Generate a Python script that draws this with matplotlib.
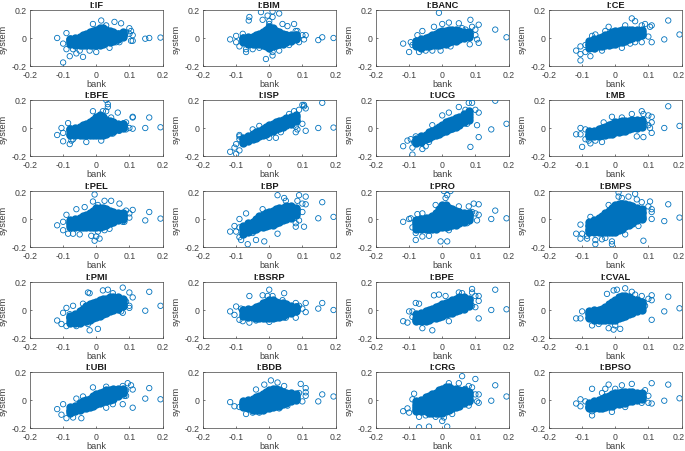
import numpy as np
import matplotlib
matplotlib.use('Agg')
import matplotlib.pyplot as plt
from matplotlib.transforms import ScaledTranslation

plt.rcParams['font.family'] = ['Liberation Sans', 'DejaVu Sans']

# bank positions of the dense columns in the middle of each cloud
core_x = [-.08, -.065, -.05, -.04, -.03, -.02, -.01, 0, .01, .02, .03, .04, .05, .065, .08]

# system values of each dense column, rows low to high, in hundredths
IF_core = [[-4,-5,-5,-5,-5,-5,-5,-5,-5,-4,-3,-3,-2,-1,1], [-3,-3,-3,-3,-3,-2,-2,-2,-2,-1,-1,0,0,1,2],
           [-2,-2,-1,-1,0,1,1,2,2,2,2,2,2,2,3], [-1,-1,0,1,2,3,3,4,4,4,4,3,3,3,3], [-1,0,1,2,3,4,5,6,7,7,6,5,4,3,4]]
BIM_core = [[-3,-4,-4,-4,-4,-5,-6,-7,-6,-5,-4,-4,-3,-2,-1], [-2,-2,-2,-2,-2,-2,-3,-3,-3,-2,-2,-1,-1,-1,0],
            [-1,-1,0,0,1,1,2,2,2,1,1,1,1,1,1], [0,0,1,1,2,3,4,5,5,3,3,2,2,1,2], [0,1,1,2,3,4,6,8,7,5,4,3,2,2,2]]
BANC_core = [[-6,-7,-6,-6,-5,-5,-5,-4,-4,-3,-2,-2,-1,0,1], [-5,-5,-4,-4,-3,-3,-2,-2,-1,-1,0,0,1,1,2],
             [-4,-3,-3,-2,-2,-1,0,0,1,1,2,2,2,2,3], [-2,-1,0,1,2,3,4,5,5,6,6,6,5,4,4]]
CE_core = [[-7,-7,-6,-6,-5,-5,-4,-4,-3,-3,-2,-1,0,1,2], [-5,-5,-4,-4,-3,-3,-2,-2,-1,0,0,1,2,2,3],
           [-4,-3,-3,-2,-1,-1,0,1,1,2,2,3,3,4,4], [-2,-1,0,1,2,3,4,5,5,6,6,6,6,6,6]]
BFE_core = [[-5,-5,-5,-5,-5,-5,-5,-5,-5,-5,-4,-3,-2,-1,0], [-4,-3,-3,-3,-3,-2,-2,-2,-2,-2,-1,-1,0,0,1],
            [-2,-2,-1,-1,0,0,1,2,2,2,2,1,1,1,2], [-1,-1,0,1,1,2,3,5,6,5,4,3,2,2,3], [-1,0,1,2,3,4,6,8,9,8,6,5,4,3,3]]
ISP_core = [[-11,-9,-8,-7,-6,-5,-4,-3,-2,-1,0,1,2,3,5], [-10,-8,-7,-6,-5,-4,-3,-2,-1,0,1,2,3,5,6],
            [-8,-7,-6,-5,-4,-3,-2,0,1,2,3,4,5,6,8], [-7,-6,-4,-3,-2,-1,1,2,3,4,5,6,7,8,9]]
UCG_core = [[-11,-10,-8,-7,-6,-5,-4,-3,-2,-1,0,1,2,4,6], [-10,-9,-7,-6,-5,-4,-2,-1,0,1,2,3,4,6,8],
            [-9,-8,-6,-5,-4,-2,-1,0,2,3,4,5,6,8,10], [-8,-6,-5,-3,-2,-1,1,2,4,5,6,7,8,10,12]]
MB_core = [[-6,-6,-6,-5,-5,-4,-4,-3,-3,-2,-2,-1,0,0,1], [-5,-5,-4,-4,-3,-3,-2,-2,-1,-1,0,0,1,2,3],
           [-4,-3,-3,-2,-2,-1,-1,0,0,1,1,2,2,3,4], [-2,-2,-1,0,1,2,3,4,4,5,5,5,6,6,6]]
PEL_core = [[-6,-6,-6,-6,-6,-6,-6,-6,-6,-5,-4,-3,-2,-1,0], [-4,-4,-4,-4,-3,-3,-3,-3,-2,-2,-1,-1,0,0,1],
            [-3,-3,-2,-1,-1,0,0,1,1,2,2,2,2,2,2], [-2,-1,0,1,1,2,3,4,5,5,4,4,3,3,3], [-1,0,1,2,3,4,6,8,8,8,7,6,5,4,4]]
BP_core = [[-11,-9,-8,-7,-6,-6,-5,-4,-4,-3,-2,-1,0,1,3], [-9,-7,-6,-5,-4,-3,-3,-2,-1,0,1,1,2,3,4],
           [-7,-5,-4,-3,-2,-1,0,1,2,2,3,4,5,5,6], [-6,-4,-3,-1,0,1,2,3,4,5,5,6,7,7,7], [-5,-3,-2,0,2,3,4,5,6,7,8,8,9,9,8]]
PRO_core = [[-7,-7,-7,-7,-7,-7,-6,-6,-6,-5,-4,-4,-3,-2,-1], [-5,-5,-4,-4,-4,-4,-3,-3,-2,-2,-1,-1,0,0,1],
            [-3,-3,-2,-2,-1,-1,0,1,1,2,2,2,2,2,2], [-2,-1,0,0,1,2,3,5,6,5,4,4,3,3,3], [-1,0,1,1,2,4,7,10,10,8,7,6,5,4,4]]
BMPS_core = [[-9,-9,-9,-9,-9,-9,-9,-9,-8,-7,-5,-4,-3,-1,0], [-8,-7,-7,-7,-7,-7,-6,-6,-5,-4,-3,-2,-1,0,1],
             [-7,-6,-6,-5,-5,-5,-4,-4,-3,-2,-1,0,0,1,2], [-5,-4,-3,-2,-1,-1,0,1,2,3,3,4,4,4,4],
             [-4,-3,-1,0,1,3,4,5,6,7,7,7,6,6,5], [-2,-1,1,2,4,6,8,10,11,11,11,10,9,8,7]]
PMI_core = [[-9,-9,-9,-8,-8,-7,-6,-5,-4,-3,-2,-1,0,1,3], [-8,-7,-6,-5,-5,-4,-3,-2,-1,0,0,1,2,3,4],
            [-6,-5,-4,-3,-2,-1,0,1,2,2,3,4,4,5,6], [-5,-4,-2,-1,0,2,2,3,4,5,5,6,6,7,7], [-4,-3,-1,1,3,4,5,6,7,8,8,9,9,9,8]]
BSRP_core = [[-4,-5,-5,-6,-6,-6,-6,-6,-6,-5,-5,-4,-3,-2,-1], [-3,-3,-3,-3,-3,-3,-3,-3,-2,-2,-2,-1,-1,-1,0],
             [-1,-1,-1,0,0,1,1,1,1,1,1,1,1,1,1], [0,0,0,1,1,3,3,4,4,3,3,3,2,2,2], [0,1,1,2,3,5,6,7,7,6,5,5,4,3,2]]
BPE_core = [[-8,-8,-8,-7,-6,-6,-5,-4,-3,-2,-2,-1,0,1,3], [-7,-7,-6,-5,-4,-4,-3,-2,-1,0,0,1,2,4,5],
            [-6,-5,-4,-3,-2,-2,-1,0,1,2,2,3,4,6,7], [-3,-2,-1,0,1,2,3,4,5,6,7,8,9,9,8]]
CVAL_core = [[-6,-7,-7,-7,-7,-7,-7,-7,-6,-5,-4,-3,-2,-1,0], [-5,-5,-5,-4,-4,-3,-3,-3,-2,-1,-1,0,1,1,2],
             [-3,-3,-3,-2,-1,-1,0,1,2,2,3,3,3,4,4], [-2,-1,-1,0,1,2,3,4,5,6,6,6,5,5,5], [-1,0,0,1,2,4,6,7,9,10,10,9,8,7,6]]
UBI_core = [[-9,-8,-7,-6,-6,-5,-4,-3,-2,-1,-1,0,1,3,5], [-8,-7,-6,-5,-4,-3,-2,-1,0,1,1,2,3,5,6],
            [-7,-6,-4,-4,-3,-2,-1,0,1,2,3,4,5,6,7], [-5,-4,-2,-1,0,1,3,4,5,6,7,7,8,8,8]]
BDB_core = [[-5,-6,-7,-7,-7,-7,-6,-6,-5,-4,-4,-3,-2,-1,0], [-4,-4,-4,-4,-4,-3,-3,-2,-2,-2,-1,-1,0,0,1],
            [-3,-2,-2,-2,-1,0,0,1,1,1,1,2,2,2,2], [-2,-1,0,0,1,2,3,4,4,4,4,4,3,3,3], [-1,0,1,2,3,4,6,7,8,8,7,6,5,5,4]]
CRG_core = [[-8,-8,-8,-9,-9,-9,-9,-9,-8,-7,-6,-5,-4,-2,-1], [-7,-7,-6,-7,-7,-7,-6,-6,-5,-4,-4,-3,-2,-1,0],
            [-6,-5,-5,-5,-5,-5,-4,-4,-3,-2,-2,-1,-1,0,1], [-4,-3,-2,-2,-1,-1,0,1,1,2,2,2,2,2,3],
            [-3,-2,0,1,1,2,3,4,5,5,5,5,4,4,4], [-1,0,2,3,4,5,7,8,9,9,8,8,7,7,6]]
BPSO_core = [[-6,-6,-6,-6,-5,-4,-4,-3,-3,-2,-2,-1,-1,0,1], [-5,-5,-4,-4,-3,-3,-2,-2,-1,-1,0,0,1,1,2],
             [-4,-3,-3,-2,-2,-1,-1,0,0,1,1,2,2,2,3], [-2,-1,0,1,2,3,4,5,5,6,6,6,6,5,5]]

# the separate circles around each cloud, (bank, system)
IF_out = [(-.118,0),(-.1,-.175),(-.09,.035),(-.1,-.04),(-.09,-.08),(-.08,-.13),(-.07,-.08),(-.06,-.11),(-.04,-.135),(-.05,-.09),(-.01,.1),(.015,.125),(.055,.115),(.075,.105),(.03,.09),(.1,.07),(.105,.05),(.11,.02),(.11,-.02),(.105,-.02),(.1,.03),(.04,-.07),(.148,-.005),(.16,0),(.194,.003),(.09,.04),(.07,-.03),(.06,-.03),(-.02,-.09),(0,-.1)]
BIM_out = [(-.118,-.01),(-.1,.015),(-.1,-.03),(-.09,-.06),(-.08,.03),(-.07,-.08),(-.07,-.1),(-.06,.15),(-.062,.125),(-.05,-.08),(-.03,-.07),(-.02,.13),(-.025,.185),(-.005,.16),(.01,.19),(.03,.175),(.01,.15),(-.01,-.15),(.01,-.125),(.01,-.1),(.03,-.09),(.04,.1),(.055,.085),(.075,.1),(.085,.05),(.09,-.03),(.06,-.05),(.1,.02),(.11,.02),(.105,-.01),(.08,.05),(.148,-.015),(.16,.005),(.194,0),(0,.12),(0,.1)]
BANC_out = [(-.118,-.04),(-.1,-.1),(-.095,-.03),(-.09,-.05),(-.08,-.02),(-.075,.02),(-.06,.05),(-.07,-.1),(-.05,-.09),(-.03,-.09),(-.025,.08),(0,.1),(.02,.11),(-.005,-.09),(.025,-.06),(-.01,.18),(.05,.105),(.085,.13),(.09,.08),(.11,.095),(.1,.06),(.1,.02),(.105,-.01),(.11,-.035),(.083,-.045),(.16,.06),(.194,.005),(.06,.07),(.07,.06)]
CE_out = [(-.118,-.09),(-.105,-.06),(-.105,-.115),(-.105,-.16),(-.09,-.05),(-.09,-.1),(-.07,.015),(-.075,-.13),(-.06,.025),(-.06,-.08),(-.04,-.09),(-.03,.05),(-.02,.08),(.02,-.07),(.05,.14),(.06,.12),(.06,-.03),(.09,.1),(.105,.08),(.11,.09),(.08,-.03),(.11,-.03),(.1,.01),(.148,-.01),(.16,.125),(.194,.025),(.08,.09),(.03,.09),(.045,-.04)]
BFE_out = [(-.118,-.05),(-.105,0),(-.1,-.095),(-.1,-.035),(-.08,-.115),(-.075,-.09),(-.085,.035),(-.07,-.08),(-.03,-.1),(.015,-.09),(-.01,.12),(.02,.12),(.03,.2),(.035,.17),(.035,.15),(.03,.12),(.065,.11),(.045,.075),(.09,.04),(.11,.08),(.11,.075),(.1,0),(.11,-.005),(.09,-.01),(.148,0),(.16,.075),(.194,.005),(.08,.03),(.07,-.02),(.05,-.04)]
ISP_out = [(-.118,-.17),(-.105,-.14),(-.1,-.185),(-.1,-.115),(-.09,-.16),(-.09,-.08),(-.09,-.05),(-.09,-.06),(-.07,-.09),(-.03,.015),(-.05,-.01),(.035,-.03),(.02,-.07),(0,-.07),(.075,.12),(.09,.13),(.1,.165),(.105,.165),(.11,.14),(.105,.155),(.16,.18),(.1,.03),(.08,-.03),(.11,-.02),(.148,0),(.194,.003),(.085,-.01),(.06,.1),(.08,.01)]
UCG_out = [(-.118,-.13),(-.105,-.09),(-.095,-.08),(-.09,-.14),(-.09,-.19),(-.085,-.1),(-.08,-.06),(-.06,-.15),(-.05,-.13),(-.04,-.1),(-.03,.02),(0,.09),(.02,.11),(.05,.15),(.08,.18),(.09,.18),(.075,.03),(.085,-.135),(.11,-.065),(.105,.02),(.148,-.01),(.16,.195),(.194,.03),(.11,.11),(.1,.13),(.07,.13),(.06,.03),(.03,-.01)]
MB_out = [(-.118,-.045),(-.105,0),(-.105,-.045),(-.1,-.135),(-.09,-.01),(-.09,-.08),(-.08,-.09),(-.075,-.11),(-.06,-.09),(-.04,-.1),(-.035,.04),(-.01,.08),(.02,.075),(.05,.1),(.08,.12),(.085,.1),(.1,.09),(.11,.08),(.11,.04),(.105,0),(.11,-.035),(.065,-.06),(.085,-.065),(.148,0),(.16,.155),(.194,.015),(.09,.03),(.1,.02)]
PEL_out = [(-.118,-.045),(-.1,-.08),(-.1,-.02),(-.09,.03),(-.085,-.105),(-.07,-.105),(-.05,-.11),(-.06,.07),(-.035,.085),(-.01,.125),(-.005,.175),(.005,.1),(.025,.13),(.045,.13),(.07,.11),(.09,.06),(.11,.065),(.1,.04),(.1,.01),(.085,-.02),(-.015,-.12),(-.005,-.155),(0,-.125),(.01,-.14),(.005,-.09),(.025,-.08),(.04,-.07),(.148,-.01),(.16,.05),(.194,.003),(.07,.04),(.08,-.02)]
BP_out = [(-.118,-.09),(-.105,-.05),(-.1,-.09),(-.09,-.13),(-.09,-.06),(-.085,-.15),(-.09,0),(-.07,.04),(-.065,-.18),(-.04,-.15),(-.015,-.16),(.025,-.105),(-.05,-.1),(-.02,.07),(.025,.17),(.045,.15),(.05,.13),(.09,.17),(.11,.16),(.1,.11),(.11,.105),(.085,.13),(.09,-.01),(.08,-.03),(.08,-.055),(.105,-.055),(.1,.05),(.148,.005),(.16,.12),(.194,.015),(.075,.06)]
PRO_out = [(-.118,-.02),(-.1,0),(-.095,.005),(-.09,-.06),(-.08,-.15),(-.08,-.1),(-.075,.035),(-.06,.04),(-.06,-.125),(-.04,-.12),(-.02,.1),(-.005,-.16),(.015,-.16),(.02,-.08),(.005,.2),(.015,.17),(.025,.2),(.01,.15),(.05,.09),(.08,.09),(.09,.05),(.095,.11),(.11,.105),(.1,.04),(.11,.03),(.105,-.01),(.075,-.03),(.148,0),(.16,.06),(.194,.005)]
BMPS_out = [(-.118,-.105),(-.105,-.04),(-.105,-.14),(-.1,-.105),(-.085,-.14),(-.085,-.12),(-.075,.015),(-.06,-.18),(-.06,-.15),(-.04,-.145),(-.03,-.135),(-.01,-.18),(-.01,-.16),(-.02,.1),(.01,.19),(.01,.16),(.02,.15),(.04,.16),(.06,.18),(.065,.14),(.08,.12),(.105,.125),(.1,.09),(.11,.07),(.11,.05),(.11,0),(.07,-.05),(.085,-.155),(.03,-.11),(.148,-.015),(.16,.105),(.194,.01),(-.05,-.09)]
PMI_out = [(-.118,-.075),(-.105,-.1),(-.1,-.02),(-.09,-.115),(-.09,.015),(-.08,-.03),(-.07,.03),(-.06,-.115),(-.04,.045),(-.025,.125),(-.02,.12),(-.02,-.145),(-.025,-.1),(.005,-.135),(.02,.14),(.035,.145),(.05,.12),(.08,.16),(.1,.125),(.11,.09),(.1,.03),(.1,.015),(.075,-.01),(.08,-.02),(.148,-.005),(.16,.13),(.194,.03),(.09,.06)]
BSRP_out = [(-.118,-.01),(-.105,-.035),(-.1,.025),(-.09,-.07),(-.085,.01),(-.08,-.08),(-.06,.1),(-.06,-.09),(-.04,-.075),(-.02,.105),(-.005,.1),(0,.145),(.01,.1),(.045,.12),(.04,.07),(.05,-.055),(.08,-.055),(.11,.05),(.1,.01),(.11,-.015),(.09,.03),(.08,.05),(.148,.01),(.16,.05),(.194,0),(0,-.085),(.02,-.06)]
BPE_out = [(-.118,-.08),(-.105,-.09),(-.1,-.01),(-.09,-.01),(-.08,.05),(-.07,.045),(-.06,-.13),(-.09,-.05),(-.03,-.145),(-.025,.105),(-.01,.11),(.01,.1),(.02,-.08),(.05,.125),(.06,.12),(.09,.15),(.09,.125),(.1,.1),(.11,.1),(.11,.065),(.11,-.06),(.09,.03),(.1,.02),(.148,0),(.16,.145),(.194,.005),(.08,.05)]
CVAL_out = [(-.118,-.06),(-.105,-.06),(-.1,-.01),(-.08,-.01),(-.07,-.11),(-.05,-.1),(-.025,.115),(-.005,.14),(.005,.145),(-.02,-.13),(-.005,-.14),(.015,-.135),(.03,.155),(.05,.13),(.06,.11),(.08,.1),(.1,.08),(.11,.105),(.11,.07),(.11,-.07),(.148,-.01),(.16,.095),(.194,.012),(.09,.03),(0,-.11),(.07,0)]
UBI_out = [(-.118,-.065),(-.105,-.105),(-.1,-.03),(-.09,-.13),(-.07,-.125),(-.045,-.13),(-.06,.01),(-.04,.025),(-.01,.09),(.03,.095),(.08,.1),(.095,.12),(.105,.105),(.11,.075),(.09,.07),(.085,.03),(.09,.03),(.08,-.03),(.11,-.055),(.03,-.055),(.05,-.03),(.148,.01),(.16,.085),(.194,.005)]
BDB_out = [(-.118,-.015),(-.105,-.045),(-.09,-.05),(-.08,-.02),(-.07,-.1),(-.05,-.09),(-.04,.075),(-.015,.11),(.005,.14),(.025,.125),(.045,.1),(.095,.115),(.11,.085),(.11,.055),(.11,.03),(.1,-.01),(.09,.05),(.08,0),(.055,-.04),(.148,-.01),(.16,.04),(.194,.025),(-.03,-.09),(.03,-.06)]
CRG_out = [(-.118,-.08),(-.105,-.06),(-.1,-.09),(-.09,.005),(-.085,.045),(-.07,-.195),(-.04,-.19),(.015,-.19),(-.07,-.12),(-.05,-.11),(-.02,-.12),(0,-.15),(.005,-.125),(.02,.12),(.06,.17),(.05,.12),(.08,.1),(.09,.09),(.1,.15),(.1,.04),(.11,.04),(.08,-.04),(.105,-.01),(.11,-.02),(.148,-.005),(.16,.105),(.194,.025),(.07,.08),(.03,-.1)]
BPSO_out = [(-.118,-.025),(-.105,.005),(-.105,-.045),(-.09,-.01),(-.07,.08),(-.07,-.11),(-.07,-.08),(-.04,.05),(-.03,.08),(-.02,.11),(0,.08),(.02,.105),(.05,.115),(.11,.12),(.09,.07),(.08,.05),(.1,.03),(.11,-.025),(.1,-.02),(.08,-.02),(-.01,-.085),(.03,-.05),(.148,-.005),(.16,.11),(.194,.012)]

titles = ['I:IF', 'I:BIM', 'I:BANC', 'I:CE',
          'I:BFE', 'I:ISP', 'I:UCG', 'I:MB',
          'I:PEL', 'I:BP', 'I:PRO', 'I:BMPS',
          'I:PMI', 'I:BSRP', 'I:BPE', 'I:CVAL',
          'I:UBI', 'I:BDB', 'I:CRG', 'I:BPSO']
cores = [IF_core, BIM_core, BANC_core, CE_core, BFE_core, ISP_core, UCG_core, MB_core, PEL_core, BP_core,
         PRO_core, BMPS_core, PMI_core, BSRP_core, BPE_core, CVAL_core, UBI_core, BDB_core, CRG_core, BPSO_core]
outs = [IF_out, BIM_out, BANC_out, CE_out, BFE_out, ISP_out, UCG_out, MB_out, PEL_out, BP_out,
        PRO_out, BMPS_out, PMI_out, BSRP_out, BPE_out, CVAL_out, UBI_out, BDB_out, CRG_out, BPSO_out]

x_ticks = [-.2, -.1, 0, .1, .2]
x_labels = ['-0.2', '-0.1', '0', '0.1', '0.2']
y_ticks = [-.2, 0, .2]
y_labels = ['-0.2', '0', '0.2']

W, H = 685, 452
col_left = [30, 203, 376, 549]
row_top = [11, 101, 192, 283, 373]
ax_w, ax_h = 132.5, 56
blue = '#0072BD'
grey = '#404040'

fig = plt.figure(figsize=(W / 100, H / 100), dpi=100)

for i, name in enumerate(titles):
    left = col_left[i % 4]
    top = row_top[i // 4]
    ax = fig.add_axes([left / W, 1 - (top + ax_h) / H, ax_w / W, ax_h / H])

    # dense middle of the cloud, the circles overlap to a solid patch there
    for row in cores[i]:
        ax.scatter(core_x, np.array(row) / 100, s=36, color=blue, linewidths=0, zorder=2)
    ox, oy = zip(*outs[i])
    ax.scatter(ox, oy, s=15, facecolors='none', edgecolors=blue, linewidths=.6, zorder=3)

    ax.set_xlim(-.2, .2)
    ax.set_ylim(-.2, .2)
    ax.set_xticks(x_ticks)
    ax.set_xticklabels(x_labels)
    ax.set_yticks(y_ticks)
    ax.set_yticklabels(y_labels)
    ax.tick_params(direction='in', length=1.2, width=.5, labelsize=6.3, colors=grey, top=False, right=False)
    ax.tick_params(axis='x', pad=2.6)
    ax.tick_params(axis='y', pad=2.2)
    for s in ax.spines.values():
        s.set_linewidth(.5)
        s.set_color(grey)
    ax.set_xlabel('bank', fontsize=6.6, color=grey)
    ax.xaxis.set_label_coords(.5, -.23)
    ax.set_ylabel('system', fontsize=6.6, color=grey)
    ax.yaxis.set_label_coords(-.165, .5)
    ax.set_title(name, fontsize=6.7, fontweight='bold', color='#1a1a1a', pad=2)

    # last column: keep the 0.2 label inside the figure
    if i % 4 == 3:
        lab = ax.get_xticklabels()[-1]
        lab.set_transform(lab.get_transform() + ScaledTranslation(-2.5 / 100, 0, fig.dpi_scale_trans))

fig.savefig('out.png', dpi=100)
